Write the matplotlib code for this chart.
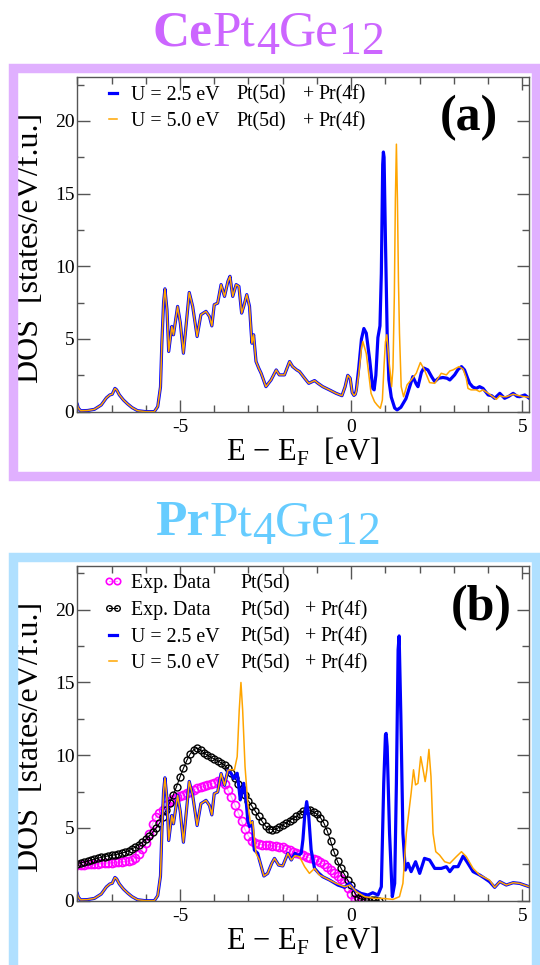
import numpy as np
import matplotlib
matplotlib.use('Agg')
import matplotlib.pyplot as plt
from matplotlib.patches import Rectangle
from matplotlib.ticker import MultipleLocator

plt.rcParams['font.family'] = 'serif'
plt.rcParams['font.serif'] = ['Liberation Serif', 'DejaVu Serif']
plt.rcParams['mathtext.fontset'] = 'custom'
plt.rcParams['mathtext.rm'] = 'Liberation Serif'
plt.rcParams['axes.unicode_minus'] = False

# ---- DFT partial DOS, shared part below E_F ----
e_core = [-8.0, -7.97, -7.9, -7.7, -7.5, -7.3, -7.15, -7.05, -6.98, -6.9, -6.85,
          -6.77, -6.65, -6.53, -6.4, -6.24, -6.0, -5.75, -5.65, -5.57, -5.53,
          -5.48, -5.44, -5.38, -5.33, -5.24, -5.19, -5.07, -4.99, -4.9, -4.73,
          -4.63, -4.5, -4.39, -4.24, -4.14, -4.07, -4.0, -3.9, -3.8, -3.7, -3.6,
          -3.54, -3.46, -3.36, -3.28, -3.2, -3.14, -3.05, -2.97, -2.9, -2.85,
          -2.78, -2.7, -2.63, -2.49, -2.34, -2.19, -2.1, -1.95, -1.8, -1.71,
          -1.59, -1.51, -1.36, -1.24, -1.07, -0.97, -0.83, -0.63, -0.44, -0.27,
          -0.18, -0.1, -0.03, 0.03, 0.08, 0.12]
dos_core = [0.5, 0.25, 0.06, 0.08, 0.16, 0.46, 0.95, 1.15, 1.2, 1.6, 1.5,
            1.15, 0.8, 0.53, 0.28, 0.07, 0.0, 0.0, 0.35, 1.7, 4.7,
            7.5, 8.45, 7.0, 4.14, 5.86, 5.29, 7.24, 6.1, 4.02, 8.2,
            7.24, 5.17, 6.67, 6.9, 6.55, 5.9, 7.36, 7.47, 8.74, 7.93, 8.97,
            9.31, 7.93, 8.74, 8.62, 6.78, 7.24, 8.05, 7.24, 4.71, 5.29,
            3.45, 2.99, 2.64, 1.72, 2.18, 2.87, 2.53, 2.53, 3.45, 3.1,
            2.87, 2.76, 2.3, 1.95, 2.14, 1.95, 1.72, 1.49, 1.26, 1.1,
            1.7, 2.5, 2.3, 1.3, 1.12, 1.2]

# ---- panel (a) above E_F ----
e_a_u25 = [0.15, 0.22, 0.3, 0.37, 0.44, 0.54, 0.63, 0.67, 0.72, 0.78, 0.84, 0.88,
           0.92, 0.94, 0.96, 1.0, 1.05, 1.1, 1.17, 1.27, 1.34, 1.45, 1.6, 1.72,
           1.8, 1.9, 1.95, 2.05, 2.12, 2.24, 2.35, 2.44, 2.55, 2.68, 2.8, 2.88,
           3.02, 3.12, 3.22, 3.31, 3.4, 3.46, 3.55, 3.65, 3.75, 3.85, 4.0, 4.1,
           4.19, 4.34, 4.48, 4.6, 4.73, 4.85, 4.92, 5.07, 5.2]
dos_a_u25 = [1.5, 3.0, 5.0, 5.72, 5.4, 3.56, 1.6, 1.5, 2.5, 5.1, 5.9, 9.5,
             17.0, 17.86, 17.5, 11.8, 5.4, 2.2, 1.0, 0.25, 0.12, 0.3, 0.9, 1.8,
             2.41, 1.9, 1.72, 2.7, 3.0, 2.87, 2.4, 2.07, 2.3, 2.35, 2.3, 2.18,
             2.53, 2.9, 3.1, 2.87, 2.3, 1.95, 1.7, 1.6, 1.72, 1.6, 1.15, 1.1,
             0.92, 1.26, 0.92, 1.05, 1.26, 1.05, 1.03, 1.15, 0.92]
e_a_u50 = [0.15, 0.22, 0.3, 0.34, 0.44, 0.52, 0.58, 0.68, 0.76, 0.85, 0.91, 0.96,
           1.0, 1.04, 1.1, 1.18, 1.22, 1.26, 1.29, 1.32, 1.35, 1.38, 1.41, 1.46,
           1.53, 1.63, 1.75, 1.9, 2.02, 2.14, 2.29, 2.44, 2.63, 2.78, 2.88, 2.97,
           3.15, 3.27, 3.36, 3.41, 3.5, 3.65, 3.75, 3.85, 4.04, 4.24, 4.34, 4.43,
           4.53, 4.73, 4.82, 5.0, 5.2]
dos_a_u50 = [1.4, 2.6, 4.4, 4.83, 4.0, 2.4, 1.26, 0.69, 0.45, 0.23, 0.8, 3.2,
             4.8, 5.29, 3.56, 1.72, 3.0, 8.0, 14.6, 18.4, 14.6, 9.0, 5.4, 1.72,
             1.03, 1.84, 2.18, 2.64, 3.38, 2.87, 2.0, 1.95, 2.64, 2.53, 2.8, 2.87,
             3.1, 2.92, 2.3, 1.6, 1.5, 1.5, 1.38, 1.5, 1.2, 0.85, 1.1, 1.03,
             1.03, 1.2, 1.15, 1.05, 0.99]

# ---- panel (b) above -3.6 eV ----
e_b_u25 = [-3.51, -3.43, -3.33, -3.28, -3.24, -3.18, -3.14, -3.07, -3.02, -2.97,
           -2.89, -2.83, -2.73, -2.68, -2.55, -2.44, -2.32, -2.24, -2.12, -2.0,
           -1.85, -1.75, -1.64, -1.56, -1.46, -1.41, -1.36, -1.3, -1.24, -1.17,
           -1.07, -0.95, -0.83, -0.63, -0.39, -0.19, -0.05, 0.1, 0.29, 0.49, 0.63,
           0.78, 0.88, 0.95, 1.0, 1.02, 1.05, 1.12, 1.2, 1.27, 1.32, 1.37, 1.4,
           1.45, 1.51, 1.58, 1.66, 1.75, 1.88, 2.0, 2.14, 2.29, 2.44, 2.63, 2.78,
           2.88, 2.99, 3.12, 3.27, 3.38, 3.56, 3.75, 3.9, 4.04, 4.19, 4.34, 4.53,
           4.73, 4.92, 5.2]
dos_b_u25 = [8.76, 8.4, 8.76, 7.8, 6.93, 7.6, 8.07, 6.93, 5.5, 5.1,
             5.44, 3.49, 3.26, 2.8, 1.7, 1.88, 2.57, 2.91, 2.45, 2.39,
             3.26, 2.8, 3.26, 3.1, 3.26, 4.2, 5.78, 6.81, 5.78, 3.49,
             2.22, 1.9, 1.65, 1.42, 1.08, 0.92, 1.19, 0.73, 0.5, 0.39, 0.55,
             0.39, 0.96, 8.07, 11.4, 11.5, 10.6, 4.63, 0.28, 1.19, 8.07, 17.25, 18.2,
             12.7, 4.63, 2.11, 2.57, 2.0, 2.68, 1.88, 2.91, 2.8, 2.22, 2.22, 2.34,
             2.0, 2.34, 2.34, 3.07, 2.68, 2.0, 1.77, 1.54, 1.31, 0.92, 1.31, 1.08,
             1.24, 1.19, 0.96]
e_b_u50 = [-3.51, -3.41, -3.33, -3.27, -3.22, -3.17, -3.1, -3.02, -2.94, -2.88,
           -2.78, -2.68, -2.55, -2.44, -2.32, -2.24, -2.12, -2.0, -1.85, -1.75,
           -1.64, -1.51, -1.36, -1.22, -1.07, -0.93, -0.73, -0.44, -0.19, -0.03,
           0.15, 0.39, 0.68, 0.93, 1.22, 1.41, 1.51, 1.61, 1.75, 1.82, 1.88, 1.95,
           2.03, 2.1, 2.16, 2.21, 2.27, 2.33, 2.39, 2.47, 2.58, 2.73, 2.88, 3.07,
           3.22, 3.36, 3.56, 3.75, 4.04, 4.19, 4.34, 4.53, 4.73, 4.92, 5.2]
dos_b_u50 = [9.0, 9.0, 9.9, 13.1, 15.0, 13.1, 9.2, 6.7, 5.3, 5.44,
             3.26, 2.8, 1.7, 1.88, 2.57, 2.91, 2.45, 2.39, 3.26, 2.8,
             3.1, 3.03, 2.34, 1.88, 2.22, 1.77, 1.54, 1.19, 0.96, 1.08,
             0.62, 0.28, 0.16, 0.16, 0.09, 0.28, 1.19, 4.63, 7.39, 9.0, 7.96, 8.07,
             9.9, 9.0, 8.19, 9.0, 10.4, 8.53, 4.63, 3.37, 3.14, 2.68, 2.57, 3.03,
             3.37, 3.03, 2.22, 1.77, 1.42, 0.92, 1.31, 1.08, 1.24, 1.19, 0.96]

# ---- photoemission data, 0.1 eV steps from -8 eV ----
exp_start, exp_step = -8.0, 0.1
exp_pt = [2.45, 2.46, 2.48, 2.5, 2.52, 2.54, 2.55, 2.57, 2.59, 2.61,
          2.62, 2.64, 2.66, 2.68, 2.7, 2.74, 2.8, 2.95, 3.2, 3.55,
          4.0, 4.6, 5.3, 5.75, 6.0, 6.25, 6.55, 6.82, 7.02, 7.15,
          7.22, 7.28, 7.38, 7.5, 7.62, 7.72, 7.82, 7.9, 7.98, 8.04,
          8.1, 8.22, 8.25, 8.05, 7.6, 7.15, 6.6, 6.05, 5.45, 4.9,
          4.45, 4.1, 3.95, 3.9, 3.86, 3.84, 3.82, 3.79, 3.76, 3.72,
          3.66, 3.58, 3.48, 3.38, 3.3, 3.22, 3.12, 3.02, 2.94, 2.86,
          2.78, 2.65, 2.5, 2.32, 2.12, 1.9, 1.7, 1.5, 1.25, 0.9,
          0.45, 0.12, 0.02, 0.0, 0.0]
exp_ptpr = [2.55, 2.6, 2.66, 2.72, 2.8, 2.86, 2.92, 2.98, 3.03, 3.08,
            3.12, 3.16, 3.21, 3.27, 3.34, 3.43, 3.56, 3.7, 3.86, 4.02,
            4.22, 4.45, 4.7, 4.98, 5.32, 5.75, 6.25, 6.75, 7.25, 7.85,
            8.5, 9.1, 9.65, 10.1, 10.38, 10.48, 10.35, 10.15, 10.0, 9.86,
            9.75, 9.62, 9.48, 9.3, 9.1, 8.8, 8.45, 8.05, 7.65, 7.25,
            6.85, 6.5, 6.15, 5.8, 5.45, 5.12, 4.95, 4.88, 4.92, 5.05,
            5.2, 5.35, 5.5, 5.65, 5.8, 5.98, 6.15, 6.25, 6.22, 6.1,
            5.95, 5.72, 5.35, 4.8, 4.1, 3.35, 2.7, 2.25, 1.82, 1.42,
            1.05, 0.55, 0.2, 0.1, 0.06, 0.04, 0.03, 0.02, 0.01]

BLUE = '#0000ff'
ORANGE = '#ffa500'
MAGENTA = '#ff00ff'
GREY = '#555555'
FS_LEG = 14.3

fig = plt.figure(figsize=(5.4, 9.65), dpi=100)
ax_a = fig.add_axes([0.1431, 0.5734, 0.837, 0.3465])
ax_b = fig.add_axes([0.1431, 0.0666, 0.837, 0.3468])

core_e = np.array(e_core)
core_d = np.array(dos_core)


def style_axes(ax):
    ax.set_xlim(-8, 5.2)
    ax.set_ylim(0, 23)
    ax.xaxis.set_major_locator(MultipleLocator(5))
    ax.xaxis.set_minor_locator(MultipleLocator(1))
    ax.yaxis.set_major_locator(MultipleLocator(5))
    ax.yaxis.set_minor_locator(MultipleLocator(2.5))
    ax.tick_params(which='both', direction='in', top=True, right=True,
                   color=GREY, width=1.0, labelsize=14)
    ax.tick_params(which='major', length=9)
    ax.tick_params(which='minor', length=5)
    ax.tick_params(axis='x', pad=5)
    ax.tick_params(axis='y', pad=2)
    for sp in ax.spines.values():
        sp.set_color(GREY)
        sp.set_linewidth(1.0)
    ax.set_xlabel(r'E $-$ E$_{\rm F}$  [eV]', fontsize=22)
    ax.set_ylabel('DOS  [states/eV/f.u.]', fontsize=23)
    ax.xaxis.set_label_coords(0.5, -0.072)
    ax.yaxis.set_label_coords(-0.072, 0.49)


def make_legend(ax, x, pieces_per_row, cols):
    leg = ax.legend(loc='upper left', bbox_to_anchor=(x, 0.975), frameon=False,
                    fontsize=FS_LEG, borderpad=0, borderaxespad=0, handlelength=1.0,
                    handletextpad=0.42, labelspacing=0.38, numpoints=2,
                    markerscale=0.8)
    fig.canvas.draw()
    inv = ax.transAxes.inverted()
    for txt, n in zip(leg.get_texts(), pieces_per_row):
        bb = txt.get_window_extent()
        y = inv.transform((0, 0.5 * (bb.y0 + bb.y1)))[1]
        for s, cx in list(zip(['Pt(5d)', '+', 'Pr(4f)'], cols))[:n]:
            ax.text(cx, y, s, transform=ax.transAxes, fontsize=FS_LEG,
                    va='center', ha='left')


def formula(ax, x, y, head, color):
    t = fig.text(x, y, head, fontsize=37, fontweight='bold', color=color,
                 ha='left', va='bottom')
    for s, size, dy in [('Pt', 37, 0), ('4', 33, -6), ('Ge', 37, 6), ('12', 33, -6)]:
        t = ax.annotate(s, xy=(1, 0), xycoords=t, xytext=(0, dy),
                        textcoords='offset points', fontsize=size, color=color,
                        ha='left', va='bottom', annotation_clip=False)


# ---------------- panel (a): CePt4Ge12 ----------------
ax_a.plot(np.r_[core_e, e_a_u25], np.r_[core_d, dos_a_u25], color=BLUE, lw=2.3,
          label='U = 2.5 eV')
ax_a.plot(np.r_[core_e, e_a_u50], np.r_[core_d, dos_a_u50], color=ORANGE, lw=1.1,
          label='U = 5.0 eV')
style_axes(ax_a)
make_legend(ax_a, 0.057, [3, 3], [0.3526, 0.4993, 0.5325])
ax_a.text(0.8666, 0.877, '(a)', transform=ax_a.transAxes, fontsize=36,
          fontweight='bold', ha='center', va='center')

# ---------------- panel (b): PrPt4Ge12 ----------------
e_exp_pt = exp_start + exp_step * np.arange(len(exp_pt))
e_exp_ptpr = exp_start + exp_step * np.arange(len(exp_ptpr))
ax_b.plot(e_exp_pt, exp_pt, color='#ff99ff', lw=0.8, marker='o', ms=5.8,
          mfc='none', mec=MAGENTA, mew=1.2, label='Exp. Data')
ax_b.plot(e_exp_ptpr, exp_ptpr, color='black', lw=0.8, marker='o', ms=5.0,
          mfc='none', mec='black', mew=1.0, label='Exp. Data')
low = core_e < -3.55
ax_b.plot(np.r_[core_e[low], e_b_u25], np.r_[core_d[low], dos_b_u25], color=BLUE,
          lw=2.3, label='U = 2.5 eV')
ax_b.plot(np.r_[core_e[low], e_b_u50], np.r_[core_d[low], dos_b_u50], color=ORANGE,
          lw=1.1, label='U = 5.0 eV')
style_axes(ax_b)
make_legend(ax_b, 0.0575, [1, 3, 3, 3], [0.36, 0.504, 0.5385])
ax_b.text(0.893, 0.876, '(b)', transform=ax_b.transAxes, fontsize=36,
          fontweight='bold', ha='center', va='center')

# ---------------- coloured frames and compound names ----------------
fig.add_artist(Rectangle((0.0237, 0.5063), 0.9694, 0.4229, transform=fig.transFigure,
                         fill=False, ec='#e0b0ff', lw=6.8))
fig.add_artist(Rectangle((0.0237, -0.002), 0.9694, 0.4246, transform=fig.transFigure,
                         fill=False, ec='#b0e0ff', lw=6.8))
formula(ax_a, 0.2833, 0.9419, 'Ce', '#cc66ff')
formula(ax_b, 0.287, 0.4341, 'Pr', '#66ccff')

fig.savefig('out.png', dpi=100)
